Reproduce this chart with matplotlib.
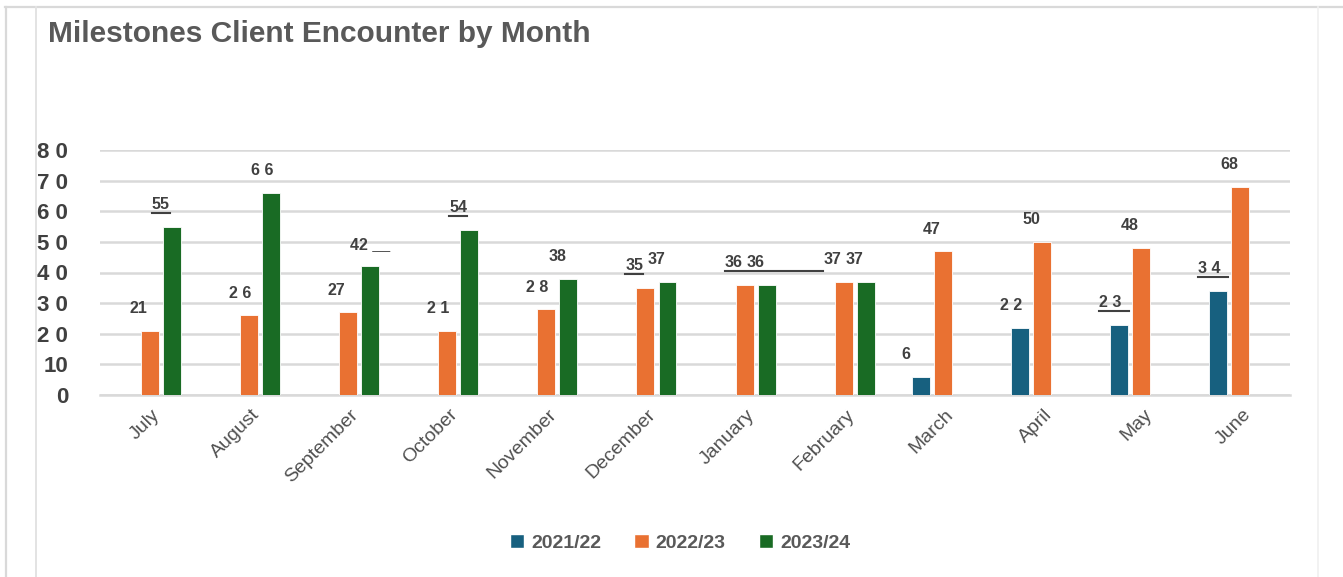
import numpy as np
import matplotlib
matplotlib.use("Agg")
import matplotlib.pyplot as plt
from matplotlib.lines import Line2D
from matplotlib.patches import Patch

months = ["July", "August", "September", "October", "November", "December",
          "January", "February", "March", "April", "May", "June"]
series = ["2021/22", "2022/23", "2023/24"]
nan = np.nan
vals_2122 = [nan, nan, nan, nan, nan, nan, nan, nan, 6, 22, 23, 34]
vals_2223 = [21, 26, 27, 21, 28, 35, 36, 37, 47, 50, 48, 68]
vals_2324 = [55, 66, 42, 54, 38, 37, 36, 37, nan, nan, nan, nan]
# data labels as they appear on the chart
text_2122 = ["", "", "", "", "", "", "", "", "6", "2 2", "2 3", "3 4"]
text_2223 = ["21", "2 6", "27", "2 1", "2 8", "35", "36", "37", "47", "50", "48", "68"]
text_2324 = ["55", "6 6", "42 __", "54", "38", "37", "36", "37", "", "", "", ""]
ytick_vals = [0, 10, 20, 30, 40, 50, 60, 70, 80]
ytick_text = ["0", "10", "2 0", "3 0", "4 0", "5 0", "6 0", "7 0", "8 0"]

colors = ["#17607f", "#e97132", "#196b24"]
grey = "#595959"
dark = "#404040"
plt.rcParams["font.family"] = ["Liberation Sans", "DejaVu Sans"]

fig = plt.figure(figsize=(13.43, 5.77), dpi=100)
W, H = 1343, 577

# outer frame lines
fig.add_artist(Line2D([5 / W, 1], [1 - 6.5 / H] * 2, color="#d9d9d9", lw=1.6))
fig.add_artist(Line2D([5.5 / W] * 2, [0, 1 - 6.5 / H], color="#d9d9d9", lw=1.6))
fig.add_artist(Line2D([35.5 / W] * 2, [0, 1 - 7 / H], color="#e3e3e3", lw=1.4))
fig.add_artist(Line2D([1317.5 / W] * 2, [0, 1 - 7 / H], color="#f0f0f0", lw=1.2))

fig.text(48 / W, 1 - 34 / H, "Milestones Client Encounter by Month",
         fontsize=21.5, fontweight="bold", color=grey, va="center", ha="left")

ax = fig.add_axes([100 / W, 1 - 395 / H, 1190 / W, 245 / H])
x = np.arange(len(months))
off = 0.222
bw = 0.18
all_vals = [vals_2122, vals_2223, vals_2324]
all_text = [text_2122, text_2223, text_2324]
for i, (v, c) in enumerate(zip(all_vals, colors)):
    ax.bar(x + (i - 1) * off, v, bw, color=c, edgecolor="#ffffff",
           linewidth=0.6, label=series[i], zorder=3)

ax.set_xlim(-0.5, len(months) - 0.5)
ax.set_ylim(0, 80)
ax.set_yticks(ytick_vals)
ax.set_yticklabels(ytick_text, fontsize=16, fontweight="bold", color=dark)
ax.yaxis.grid(True, color="#d9d9d9", lw=1.8, zorder=0)
ax.tick_params(axis="y", length=0, pad=23)
ax.tick_params(axis="x", length=0, pad=8)
ax.set_xticks(x + 0.02)
ax.set_xticklabels(months, rotation=45, ha="right", va="top",
                   rotation_mode="anchor", fontsize=14, color="#505050")
for s in ["top", "right", "left"]:
    ax.spines[s].set_visible(False)
ax.spines["bottom"].set_color("#d9d9d9")
ax.spines["bottom"].set_linewidth(1.8)

texts = {}
for i in range(3):
    for j, (v, t) in enumerate(zip(all_vals[i], all_text[i])):
        if t == "" or np.isnan(v):
            continue
        tx = ax.annotate(t, (x[j] + (i - 1) * off, v), xytext=(-20, 22),
                         textcoords="offset pixels", ha="left", va="center",
                         fontsize=11.5, fontweight="bold", color=dark, zorder=4)
        texts[(i, j)] = tx

# underlines seen on some labels: (series, month, extra px, end at label)
underlined = [(2, 0, 0, None), (2, 3, 0, None), (1, 5, 0, None),
              (1, 6, 0, (1, 7)), (0, 10, 7, None), (0, 11, 7, None)]
fig.canvas.draw()
r = fig.canvas.get_renderer()
for i, j, extra, end in underlined:
    bb = texts[(i, j)].get_window_extent(r)
    x1 = bb.x1 + extra
    if end is not None:
        x1 = texts[end].get_window_extent(r).x0 - 1
    yl = bb.y0 - 1
    fig.add_artist(Line2D([bb.x0 / W, x1 / W], [yl / H, yl / H],
                          color=dark, lw=1.5))

handles = [Patch(facecolor=c, edgecolor="#ffffff") for c in colors]
fig.legend(handles, series, loc="center", bbox_to_anchor=(680 / W, 1 - 543 / H),
           ncol=3, frameon=False, handlelength=0.75, handleheight=0.75,
           columnspacing=1.7, handletextpad=0.35,
           prop={"size": 14, "weight": "bold"}, labelcolor=grey)

fig.savefig("out.png", dpi=100)
